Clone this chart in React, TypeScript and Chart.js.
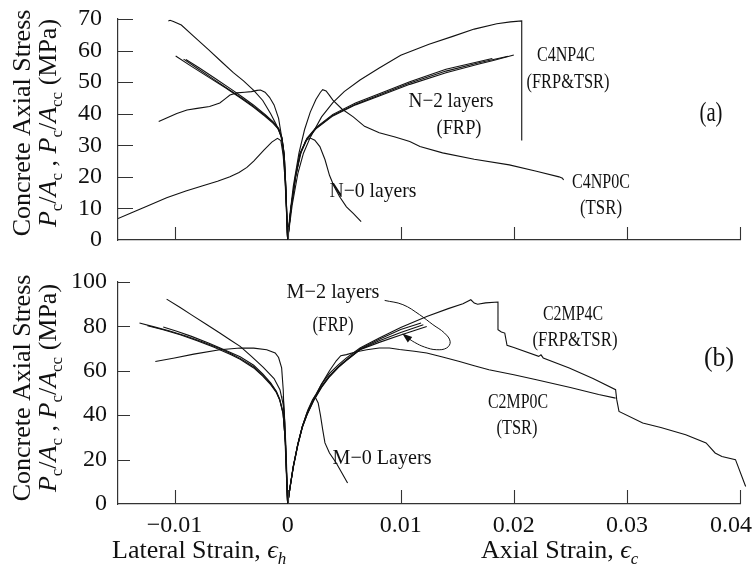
import { useEffect, useRef } from 'react';
import { Chart, registerables } from 'chart.js';

Chart.register(...registerables);

type P = [number, number];

const FAMILY = "'Liberation Serif', 'DejaVu Serif', serif";
const INK = '#111111';
const AXIS = '#333333';

// ---------- axes ----------
const X_MIN = -0.015;
const X_MAX = 0.04;
const X_TICKS = [-0.01, 0, 0.01, 0.02, 0.03, 0.04];
const Y_TICKS_A = [0, 10, 20, 30, 40, 50, 60, 70];
const Y_TICKS_B = [0, 20, 40, 60, 80, 100];

// ---------- panel (a): [strain, stress MPa] ----------
const C4NP4C_lat: P[] = [[-0.01055, 69.4], [-0.0104, 69.6], [-0.0101, 69.2], [-0.0094, 68.1], [-0.0082, 64.2], [-0.007, 60.3], [-0.0058, 56.3], [-0.0048, 53.0], [-0.0039, 50.4], [-0.003, 47.4], [-0.0022, 44.2], [-0.0015, 40.0], [-0.001, 36.5], [-0.0006, 33.0], [-0.0004, 29.5], [-0.00025, 22], [-0.00012, 12], [0, 0]];
const C4NP4C_ax: P[] = [[0, 0], [0.0004, 11], [0.0009, 21], [0.0014, 27.5], [0.002, 32.5], [0.003, 39], [0.004, 43.5], [0.005, 47], [0.0064, 50.7], [0.0081, 54.5], [0.01, 58.5], [0.0125, 62], [0.0146, 64.5], [0.0165, 66.8], [0.0185, 68.5], [0.0197, 69.1], [0.0207, 69.4], [0.0207, 31.5]];

const N2a_lat: P[] = [[-0.0099, 58.3], [-0.0085, 55.0], [-0.007, 51.6], [-0.0055, 48.2], [-0.004, 44.6], [-0.003, 42], [-0.002, 39.2], [-0.0013, 37], [-0.0008, 35], [-0.0005, 32], [-0.0003, 27], [-0.00015, 16], [0, 0]];
const N2b_lat: P[] = [[-0.0092, 57.3], [-0.008, 54.4], [-0.0065, 50.8], [-0.005, 47.2], [-0.004, 44.8], [-0.003, 42.3], [-0.002, 39.5], [-0.0013, 37.3], [-0.0008, 35.2], [-0.0005, 32.2], [-0.0003, 27], [-0.00015, 16], [0, 0]];
const N2c_lat: P[] = [[-0.009, 57.2], [-0.0078, 54.5], [-0.0065, 51.4], [-0.005, 47.8], [-0.004, 45.3], [-0.003, 42.7], [-0.002, 39.8], [-0.0013, 37.5], [-0.0008, 35.4], [-0.0005, 32.4], [-0.0003, 27], [-0.00015, 16], [0, 0]];
const N2a_ax: P[] = [[0, 0], [0.0003, 10], [0.0007, 20], [0.0011, 27], [0.0017, 31.8], [0.0025, 35.2], [0.004, 39.3], [0.006, 42.8], [0.0081, 45.6], [0.0108, 49.3], [0.014, 53.0], [0.017, 55.8], [0.0181, 56.8], [0.02, 58.6]];
const N2b_ax: P[] = [[0, 0], [0.0003, 10], [0.0007, 20], [0.0011, 27.3], [0.0017, 32.2], [0.0025, 35.6], [0.004, 39.8], [0.006, 43.4], [0.0081, 46.3], [0.0108, 50.1], [0.014, 54.1], [0.0181, 57.5]];
const N2c_ax: P[] = [[0, 0], [0.0003, 10.5], [0.0007, 20.5], [0.0011, 27.5], [0.0017, 32], [0.0025, 35.4], [0.004, 39.5], [0.006, 43], [0.0081, 45.9], [0.0108, 49.7], [0.014, 53.5], [0.017, 56.2], [0.0195, 58.2]];

const C4NP0C_lat: P[] = [[-0.0114, 37.5], [-0.0106, 38.8], [-0.0098, 40.1], [-0.0089, 41.2], [-0.008, 41.7], [-0.0069, 42.3], [-0.006, 43.4], [-0.0055, 44.8], [-0.0051, 45.9], [-0.0045, 46.6], [-0.0038, 46.8], [-0.0032, 47.0], [-0.0027, 47.4], [-0.0024, 47.5], [-0.002, 46.8], [-0.0016, 45.2], [-0.0012, 42.8], [-0.0008, 38.5], [-0.0005, 32], [-0.0003, 24], [-0.00015, 13], [0, 0]];
const C4NP0C_ax: P[] = [[0, 0], [0.0002, 8], [0.0005, 17], [0.001, 27.5], [0.0015, 35], [0.002, 40.5], [0.0025, 44.5], [0.0029, 46.8], [0.0031, 47.6], [0.0034, 47.2], [0.0037, 45.8], [0.004, 44.3], [0.0048, 41.5], [0.0058, 39], [0.0068, 36], [0.0081, 34], [0.0095, 32.6], [0.0108, 31.2], [0.0117, 29.6], [0.0137, 27.6], [0.0165, 25.6], [0.0196, 23.8], [0.022, 21.8], [0.024, 20.0], [0.0243, 19.6], [0.0244, 19.0]];

const N0_lat: P[] = [[-0.015, 6.8], [-0.0138, 8.6], [-0.0125, 10.6], [-0.0107, 13.4], [-0.009, 15.5], [-0.0075, 17.2], [-0.0062, 18.6], [-0.0051, 20], [-0.0043, 21.4], [-0.0036, 23], [-0.003, 25], [-0.0021, 28.5], [-0.0014, 31], [-0.0009, 32.2], [-0.0006, 31.5], [-0.0004, 27], [-0.0002, 18], [-0.0001, 9], [0, 0]];
const N0_ax: P[] = [[0, 0], [0.0003, 10], [0.0007, 20], [0.0012, 28], [0.0016, 31.5], [0.002, 32.3], [0.0024, 31.6], [0.00285, 29.6], [0.0033, 25.5], [0.0037, 20.5], [0.0041, 17], [0.0046, 13.7], [0.0052, 10.5], [0.0058, 8.4], [0.0065, 5.8]];

// ---------- panel (b) ----------
const C2MP4C_lat: P[] = [[-0.0107, 92.3], [-0.0095, 88.5], [-0.0085, 85.2], [-0.0072, 81], [-0.006, 77], [-0.0051, 74], [-0.0042, 71], [-0.0032, 66.5], [-0.00215, 61.5], [-0.0012, 56.5], [-0.00068, 51.5], [-0.0004, 45], [-0.00024, 36.5], [-0.0001, 18], [0, 0]];
const C2MP4C_ax: P[] = [[0, 0], [0.0002, 7], [0.0005, 17], [0.0009, 27], [0.0013, 35], [0.0017, 41], [0.0023, 47.5], [0.003, 54], [0.0037, 58.8], [0.0045, 62.8], [0.0052, 65.8], [0.0064, 70.3], [0.0081, 74.8], [0.01, 79.5], [0.0123, 84.5], [0.0142, 88], [0.0155, 90.2], [0.0162, 92], [0.0165, 90.5], [0.0168, 90], [0.0175, 90.6], [0.0186, 91], [0.0186, 78.5], [0.0189, 77.5], [0.0192, 77], [0.0194, 71.5], [0.02, 70.5], [0.0222, 66.5], [0.0224, 67.2], [0.0226, 65.8], [0.0249, 61.3], [0.027, 56.5], [0.029, 51.5], [0.0291, 47], [0.0293, 41.7], [0.0314, 36.5], [0.033, 34.5], [0.0352, 31.2], [0.037, 27.5], [0.0378, 23], [0.0384, 21.4], [0.0396, 20], [0.0405, 7.9], [0.0411, 8.7]];

const C2MP0C_lat: P[] = [[-0.0117, 64.2], [-0.01, 65.8], [-0.0083, 67.5], [-0.006, 69.5], [-0.0042, 70.3], [-0.003, 70.2], [-0.00185, 69.5], [-0.0011, 68], [-0.0008, 66], [-0.00053, 61.3], [-0.00039, 51.5], [-0.0003, 38], [-0.0002, 25], [-0.0001, 12], [0, 0]];
const C2MP0C_ax: P[] = [[0, 0], [0.0002, 7], [0.0005, 16.5], [0.0009, 26.5], [0.0013, 34.5], [0.0018, 41.5], [0.0024, 48], [0.003, 54], [0.0037, 60], [0.0043, 64.5], [0.0047, 66.8], [0.0052, 67.3], [0.006, 68.5], [0.007, 69.5], [0.0081, 70.3], [0.009, 70.3], [0.0099, 69.6], [0.0112, 68.8], [0.0123, 68], [0.0137, 66.2], [0.0152, 64.2], [0.0165, 62.3], [0.0178, 60.5], [0.02, 58.2], [0.022, 56], [0.025, 52.5], [0.0275, 49.3], [0.029, 47.7]];

const M2a_lat: P[] = [[-0.0131, 81.5], [-0.0118, 79.8], [-0.0105, 78], [-0.009, 75.7], [-0.0075, 73], [-0.006, 70], [-0.005, 67.7], [-0.0042, 65.6], [-0.003, 61.8], [-0.0022, 58], [-0.0015, 54.2], [-0.001, 50.5], [-0.0007, 47], [-0.0004, 41], [-0.0002, 28], [-0.0001, 14], [0, 0]];
const M2b_lat: P[] = [[-0.011, 79.7], [-0.0098, 77.8], [-0.0085, 75.5], [-0.007, 72.5], [-0.0055, 69.3], [-0.0042, 66.3], [-0.003, 62.5], [-0.0022, 58.6], [-0.0015, 54.6], [-0.001, 50.8], [-0.0007, 47.2], [-0.0004, 41], [-0.0002, 28], [-0.0001, 14], [0, 0]];
const M2c_lat: P[] = [[-0.0124, 80.3], [-0.011, 78.5], [-0.0095, 76.2], [-0.008, 73.5], [-0.0065, 70.6], [-0.005, 67.2], [-0.0042, 65.2], [-0.003, 61.3], [-0.0022, 57.6], [-0.0015, 53.8], [-0.001, 50.2], [-0.0007, 46.8], [-0.0004, 40.5], [-0.0002, 28], [-0.0001, 14], [0, 0]];
const M2a_ax: P[] = [[0, 0], [0.0002, 7.5], [0.0005, 17], [0.0009, 27], [0.0013, 35], [0.0017, 40.5], [0.0023, 47], [0.003, 53], [0.0037, 57.8], [0.0045, 62], [0.0052, 65], [0.0064, 69.8], [0.0081, 74.2], [0.01, 78.6], [0.0118, 81.5]];
const M2b_ax: P[] = [[0, 0], [0.0002, 7], [0.0005, 16.5], [0.0009, 26.5], [0.0013, 34.5], [0.0017, 40], [0.0023, 46.5], [0.003, 52.5], [0.0037, 57.3], [0.0045, 61.6], [0.0052, 64.6], [0.0064, 69.5], [0.0081, 72.8], [0.01, 76.1], [0.0123, 80]];
const M2c_ax: P[] = [[0, 0], [0.0002, 7.2], [0.0005, 16.8], [0.0009, 26.8], [0.0013, 34.8], [0.0017, 40.3], [0.0023, 46.8], [0.003, 52.8], [0.0037, 57.5], [0.0045, 61.8], [0.0052, 64.8], [0.0064, 69.6], [0.0081, 73.5], [0.01, 77.3], [0.012, 80.7]];

const M0_lat: P[] = [[-0.0004, 48.5], [-0.0003, 42], [-0.0002, 30], [-0.0001, 15], [0, 0]];
const M0_ax: P[] = [[0, 0], [0.0002, 7], [0.0005, 17], [0.0009, 27], [0.0013, 35], [0.0018, 42.5], [0.0022, 47], [0.0024, 48.5], [0.0027, 45.5], [0.0029, 40], [0.0031, 33.5], [0.0033, 27.5], [0.0037, 23], [0.0043, 18.5], [0.0048, 14], [0.0053, 9.5]];

// leader line from the "M-2 layers" label, ending in an arrow
const M2_leader: P[] = [[0.00858, 91.7], [0.01019, 89.8], [0.01166, 85.3], [0.01284, 80.8], [0.01387, 77.0], [0.01437, 73.2], [0.01407, 70.3], [0.01314, 69.5], [0.01211, 70.7], [0.01123, 72.8], [0.01063, 74.8], [0.01034, 76.0]];

// ---------- helpers ----------
const join = (lat: P[], ax: P[]): P[] => [...lat, ...ax.slice(1)];

const ds = (label: string, pts: P[], extra: Record<string, unknown> = {}) => ({
  label,
  data: pts.map(([x, y]) => ({ x, y })),
  showLine: true,
  pointRadius: 0,
  borderColor: INK,
  borderWidth: 1.1,
  tension: 0,
  ...extra,
});

const fmtX = (v: number | string) => {
  const n = Number(v);
  if (Math.abs(n) < 1e-9) return '0';
  return (n < 0 ? '\u2212' : '') + Math.abs(n).toFixed(2);
};

type Seg = { t: string; it?: boolean; sub?: boolean };
const TITLE_SIZE = 26;
const SUB_SIZE = 17;
const SUB_DY = 6;
const segFont = (s: Seg) => `${s.it ? 'italic ' : ''}${s.sub ? SUB_SIZE : TITLE_SIZE}px ${FAMILY}`;
function segWidth(ctx: CanvasRenderingContext2D, segs: Seg[]) {
  let w = 0;
  for (const s of segs) { ctx.font = segFont(s); w += ctx.measureText(s.t).width; }
  return w;
}
function drawSegs(ctx: CanvasRenderingContext2D, segs: Seg[], x: number, y: number) {
  let cx = x;
  for (const s of segs) {
    ctx.font = segFont(s);
    ctx.fillText(s.t, cx, y + (s.sub ? SUB_DY : 0));
    cx += ctx.measureText(s.t).width;
  }
}

const Y_TITLE_1: Seg[] = [{ t: 'Concrete Axial Stress' }];
const Y_TITLE_2: Seg[] = [
  { t: 'P', it: true }, { t: 'c', sub: true }, { t: '/' }, { t: 'A', it: true }, { t: 'c', sub: true },
  { t: ' , ' },
  { t: 'P', it: true }, { t: 'c', sub: true }, { t: '/' }, { t: 'A', it: true }, { t: 'cc', sub: true },
  { t: ' (MPa)' },
];
const X_TITLE_LAT: Seg[] = [{ t: 'Lateral Strain, ' }, { t: '\u03F5', it: true }, { t: 'h', it: true, sub: true }];
const X_TITLE_AX: Seg[] = [{ t: 'Axial Strain, ' }, { t: '\u03F5', it: true }, { t: 'c', it: true, sub: true }];

// annotation: text, centre x, baseline y, target width, font size
type Note = [string, number, number, number, number];
const NOTES_A: Note[] = [
  ['C4NP4C', 566, 61, 58, 21],
  ['(FRP&TSR)', 568, 88, 83, 21],
  ['N\u22122 layers', 451, 107, 85, 21],
  ['(FRP)', 459, 134, 45, 21],
  ['C4NP0C', 601, 188, 58, 21],
  ['(TSR)', 601, 214, 42, 21],
  ['N\u22120 layers', 373, 197, 87, 21],
  ['(a)', 711, 121, 23, 27],
];
const NOTES_B: Note[] = [
  ['M\u22122 layers', 333, 43, 93, 21],
  ['(FRP)', 333, 76, 41, 21],
  ['C2MP4C', 573, 65, 60, 21],
  ['(FRP&TSR)', 575, 91, 85, 21],
  ['C2MP0C', 518, 153, 60, 21],
  ['(TSR)', 517, 179, 41, 21],
  ['M\u22120 Layers', 382, 209, 99, 21],
  ['(b)', 719, 111, 30, 27],
];

function makeDecor(notes: Note[], yTitleCenter: number, xTitles: boolean, xTickLen: number, yTickLen: number) {
  return {
    id: 'decor',
    afterDatasetsDraw(chart: any) {
      const { ctx, chartArea } = chart;
      const xs = chart.scales.x;
      const ys = chart.scales.y;
      ctx.save();
      // inward tick marks
      ctx.strokeStyle = AXIS;
      ctx.lineWidth = 1.1;
      ctx.beginPath();
      for (const t of xs.ticks) {
        const px = Math.round(xs.getPixelForValue(t.value)) + 0.5;
        ctx.moveTo(px, chartArea.bottom);
        ctx.lineTo(px, chartArea.bottom - xTickLen);
      }
      for (const t of ys.ticks) {
        if (t.value === 0) continue;
        const py = Math.round(ys.getPixelForValue(t.value)) + 0.5;
        ctx.moveTo(chartArea.left, py);
        ctx.lineTo(chartArea.left + yTickLen, py);
      }
      ctx.stroke();

      // arrow head on the leader line
      chart.data.datasets.forEach((d: any, i: number) => {
        if (d.label !== 'leader') return;
        const pts = chart.getDatasetMeta(i).data;
        const a = pts[pts.length - 2];
        const b = pts[pts.length - 1];
        const ang = Math.atan2(b.y - a.y, b.x - a.x);
        ctx.fillStyle = INK;
        ctx.beginPath();
        ctx.moveTo(b.x + Math.cos(ang) * 3, b.y + Math.sin(ang) * 3);
        ctx.lineTo(b.x - Math.cos(ang) * 7 + Math.sin(ang) * 3.5, b.y - Math.sin(ang) * 7 - Math.cos(ang) * 3.5);
        ctx.lineTo(b.x - Math.cos(ang) * 7 - Math.sin(ang) * 3.5, b.y - Math.sin(ang) * 7 + Math.cos(ang) * 3.5);
        ctx.closePath();
        ctx.fill();
      });

      ctx.fillStyle = INK;
      ctx.textBaseline = 'alphabetic';
      // x tick labels (kept inside the canvas, like the last "0.04")
      if (xTitles) {
        ctx.font = `24px ${FAMILY}`;
        ctx.textAlign = 'center';
        const W = chart.width;
        for (const t of xs.ticks) {
          const s = fmtX(t.value);
          const w = ctx.measureText(s).width;
          const px = xs.getPixelForValue(t.value);
          const cx = Math.min(px, W - w / 2 - 1);
          ctx.fillText(s, cx, chartArea.bottom + 28);
        }
      }
      // annotations
      for (const [t, cx, by, w, size] of notes) {
        ctx.font = `${size}px ${FAMILY}`;
        ctx.textAlign = 'center';
        const mw = ctx.measureText(t).width;
        ctx.save();
        ctx.translate(cx, by);
        ctx.scale(w / mw, 1);
        ctx.fillText(t, 0, 0);
        ctx.restore();
      }
      ctx.textAlign = 'left';
      // y title, two rotated lines
      const lines: [Seg[], number][] = [[Y_TITLE_1, 30], [Y_TITLE_2, 56]];
      for (const [segs, bx] of lines) {
        const w = segWidth(ctx, segs);
        ctx.save();
        ctx.translate(bx, yTitleCenter);
        ctx.rotate(-Math.PI / 2);
        drawSegs(ctx, segs, -w / 2, 0);
        ctx.restore();
      }
      if (xTitles) {
        drawSegs(ctx, X_TITLE_LAT, 112, 303);
        drawSegs(ctx, X_TITLE_AX, 481, 303);
      }
      ctx.restore();
    },
  };
}

function makeOptions(yMax: number, yTicks: number[], padTop: number, xHeight: number, yPad: number) {
  return {
    responsive: false,
    animation: false as const,
    events: [],
    layout: { padding: { top: padTop, right: 13, left: 0, bottom: 0 } },
    plugins: { legend: { display: false }, tooltip: { enabled: false } },
    scales: {
      x: {
        type: 'linear' as const,
        min: X_MIN,
        max: X_MAX,
        afterBuildTicks: (s: any) => { s.ticks = X_TICKS.map((v) => ({ value: v })); },
        afterFit: (s: any) => { s.height = xHeight; s.paddingLeft = 0; s.paddingRight = 0; },
        ticks: { display: false, autoSkip: false, maxRotation: 0, callback: fmtX },
        grid: { display: true, drawOnChartArea: false, drawTicks: false },
        border: { display: true, color: AXIS, width: 1.2 },
      },
      y: {
        type: 'linear' as const,
        min: 0,
        max: yMax,
        afterBuildTicks: (s: any) => { s.ticks = yTicks.map((v) => ({ value: v })); },
        afterFit: (s: any) => { s.width = 118; s.paddingTop = 0; s.paddingBottom = 0; },
        ticks: { autoSkip: false, padding: yPad, color: INK, font: { family: FAMILY, size: 24 }, callback: (v: number | string) => String(v) },
        grid: { display: true, drawOnChartArea: false, drawTicks: false },
        border: { display: true, color: AXIS, width: 1.2 },
      },
    },
  };
}

export default function App() {
  const refA = useRef<HTMLCanvasElement>(null);
  const refB = useRef<HTMLCanvasElement>(null);

  useEffect(() => {
    const a = new Chart(refA.current!, {
      type: 'scatter',
      data: {
        datasets: [
          ds('C4NP4C', join(C4NP4C_lat, C4NP4C_ax)),
          ds('N2a', join(N2a_lat, N2a_ax)),
          ds('N2b', join(N2b_lat, N2b_ax)),
          ds('N2c', join(N2c_lat, N2c_ax)),
          ds('C4NP0C', join(C4NP0C_lat, C4NP0C_ax)),
          ds('N0', join(N0_lat, N0_ax)),
        ],
      },
      options: makeOptions(70, Y_TICKS_A, 19, 15, 16) as any,
      plugins: [makeDecor(NOTES_A, 123, false, 13, 15)],
    });
    const b = new Chart(refB.current!, {
      type: 'scatter',
      data: {
        datasets: [
          ds('C2MP4C', join(C2MP4C_lat, C2MP4C_ax), { clip: false }),
          ds('C2MP0C', join(C2MP0C_lat, C2MP0C_ax)),
          ds('M2a', join(M2a_lat, M2a_ax)),
          ds('M2b', join(M2b_lat, M2b_ax)),
          ds('M2c', join(M2c_lat, M2c_ax)),
          ds('M0', join(M0_lat, M0_ax)),
          ds('leader', M2_leader, { tension: 0.4, borderWidth: 1 }),
        ],
      },
      options: makeOptions(100, Y_TICKS_B, 27, 67, 11) as any,
      plugins: [makeDecor(NOTES_B, 133, true, 14, 12)],
    });
    return () => { a.destroy(); b.destroy(); };
  }, []);

  return (
    <div style={{ position: 'absolute', left: 0, top: 0, width: 753, height: 571, background: '#fff' }}>
      <canvas ref={refA} width={753} height={255} style={{ position: 'absolute', left: 0, top: 0 }} />
      <canvas ref={refB} width={753} height={316} style={{ position: 'absolute', left: 0, top: 255 }} />
    </div>
  );
}
